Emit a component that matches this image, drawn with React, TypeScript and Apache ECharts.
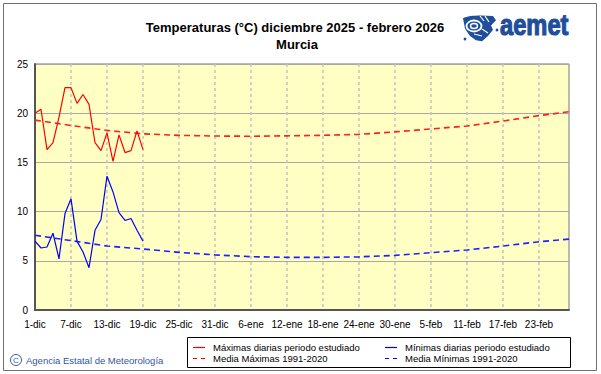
import React, { useEffect, useRef } from "react";
import * as echarts from "echarts";

// Categories: every day from 1-dic to 28-feb
const monthNames = ["dic", "ene", "feb"];
const monthLengths = [31, 31, 28];
const days: string[] = [];
monthNames.forEach((m, k) => {
  for (let d = 1; d <= monthLengths[k]; d++) days.push(`${d}-${m}`);
});

// Daily observed values (1-dic .. 19-dic)
const maxDaily = [20.0, 20.4, 16.3, 17.0, 19.6, 22.6, 22.6, 21.0, 21.9, 20.9, 17.0, 16.2, 18.0, 15.1, 17.8, 16.0, 16.2, 18.2, 16.3];
const minDaily = [7.0, 6.3, 6.4, 7.8, 5.2, 9.8, 11.3, 7.0, 5.9, 4.3, 8.1, 9.2, 13.6, 12.0, 9.9, 9.1, 9.3, 8.1, 7.0];

// Climatological means 1991-2020, read at these day indices
const normIdx = [0, 6, 12, 18, 24, 30, 36, 42, 48, 54, 60, 66, 72, 78, 84, 89];
const normMax = [19.3, 18.75, 18.25, 17.9, 17.75, 17.68, 17.66, 17.7, 17.75, 17.85, 18.1, 18.4, 18.7, 19.2, 19.75, 20.15];
const normMin = [7.6, 7.05, 6.5, 6.2, 5.86, 5.6, 5.42, 5.35, 5.35, 5.4, 5.55, 5.83, 6.1, 6.5, 6.94, 7.2];

const yMin = 0;
const yMax = 25;
const yStep = 5;

const titleText = "Temperaturas (°C) diciembre 2025 - febrero 2026";
const subtitleText = "Murcia";
const legendNames = [
  "Máximas diarias periodo estudiado",
  "Mínimas diarias periodo estudiado",
  "Media Máximas 1991-2020",
  "Media Mínimas 1991-2020",
];
const footerText = "Agencia Estatal de Meteorología";

const FONT = "'Liberation Sans', Arial, sans-serif";

const logoPath =
  "M1 3 C7 0 20 0 31 1 L34 5 L29 10 L31 14 L26 20 L20 25 L14 24 L8 20 L3 13 Z";

let registered = false;
function registerLogo() {
  if (registered) return;
  echarts.graphic.registerShape("logo", echarts.graphic.extendPath(logoPath, {}) as any);
  registered = true;
}

export default function App() {
  const ref = useRef<HTMLDivElement>(null);

  useEffect(() => {
    if (!ref.current) return;
    registerLogo();
    const chart = echarts.init(ref.current, undefined, { renderer: "svg" });

    const gridLeft = 35;
    const gridTop = 64;
    const gridW = 534;
    const gridH = 246;

    const legX = 187;
    const legY = 337;
    const row1 = 347.5;
    const row2 = 358.5;
    const col1 = 193;
    const col2 = 385;
    const legendItems = [
      { x: col1, y: row1, color: "#ff0000", dash: null, text: legendNames[0] },
      { x: col2, y: row1, color: "#0000ff", dash: null, text: legendNames[1] },
      { x: col1, y: row2, color: "#ff0000", dash: [4, 4], text: legendNames[2] },
      { x: col2, y: row2, color: "#0000ff", dash: [4, 4], text: legendNames[3] },
    ];

    const legendGraphics: any[] = [
      {
        type: "rect",
        shape: { x: legX + 0.5, y: legY + 0.5, width: 383, height: 30 },
        style: { fill: "#ffffff", stroke: "#000000", lineWidth: 1 },
      },
    ];
    legendItems.forEach((it) => {
      legendGraphics.push({
        type: "line",
        shape: { x1: it.x, y1: it.y, x2: it.x + 12, y2: it.y },
        style: { stroke: it.color, lineWidth: 1.2, lineDash: it.dash || undefined },
      });
      legendGraphics.push({
        type: "text",
        x: it.x + 20,
        y: it.y,
        style: {
          text: it.text,
          fill: "#000",
          font: `9.5px ${FONT}`,
          textVerticalAlign: "middle",
          textAlign: "left",
        },
      });
    });

    const option: any = {
      animation: false,
      textStyle: { fontFamily: FONT },
      grid: {
        left: gridLeft,
        top: gridTop,
        width: gridW,
        height: gridH,
        show: true,
        backgroundColor: "#ffffc4",
        borderColor: "#777777",
        borderWidth: 1,
      },
      xAxis: {
        type: "category",
        data: days,
        boundaryGap: false,
        axisLine: { show: true, lineStyle: { color: "#555555", width: 2 } },
        axisTick: { show: false },
        axisLabel: {
          interval: 5,
          color: "#000",
          fontSize: 10,
          margin: 9,
          fontFamily: FONT,
        },
        splitLine: {
          show: true,
          interval: 5,
          lineStyle: { color: "#c4c4c4", width: 1.5, type: [3, 3] },
        },
      },
      yAxis: {
        type: "value",
        min: yMin,
        max: yMax,
        interval: yStep,
        axisLine: { show: true, lineStyle: { color: "#555555", width: 2 } },
        axisTick: { show: false },
        axisLabel: { color: "#000", fontSize: 10, margin: 7, fontFamily: FONT },
        splitLine: { show: true, lineStyle: { color: "#a8a8a8", width: 1 } },
      },
      series: [
        {
          name: legendNames[0],
          type: "line",
          data: maxDaily,
          showSymbol: false,
          lineStyle: { color: "#ff0000", width: 1.2 },
          z: 5,
        },
        {
          name: legendNames[1],
          type: "line",
          data: minDaily,
          showSymbol: false,
          lineStyle: { color: "#0000ff", width: 1.2 },
          z: 5,
        },
        {
          name: legendNames[2],
          type: "line",
          data: normIdx.map((i, k) => [days[i], normMax[k]]),
          showSymbol: false,
          lineStyle: { color: "#ff2020", width: 1.6, type: [6, 4] },
          z: 4,
        },
        {
          name: legendNames[3],
          type: "line",
          data: normIdx.map((i, k) => [days[i], normMin[k]]),
          showSymbol: false,
          lineStyle: { color: "#2020ff", width: 1.6, type: [6, 4] },
          z: 4,
        },
      ],
      graphic: [
        {
          type: "rect",
          shape: { x: 3.5, y: 3.5, width: 593, height: 367 },
          style: { fill: "none", stroke: "#707070", lineWidth: 1 },
          z: -10,
        },
        {
          type: "text",
          x: 295,
          y: 27,
          style: {
            text: titleText,
            fill: "#000",
            font: `bold 13px ${FONT}`,
            textAlign: "center",
            textVerticalAlign: "middle",
          },
        },
        {
          type: "text",
          x: 297,
          y: 44,
          style: {
            text: subtitleText,
            fill: "#000",
            font: `bold 13px ${FONT}`,
            textAlign: "center",
            textVerticalAlign: "middle",
          },
        },
        // logo icon
        {
          type: "group",
          x: 462,
          y: 15,
          children: [
            { type: "logo", x: 0, y: 0, scaleX: 1, scaleY: 1.05, style: { fill: "#1f4e9a" } },
            {
              type: "ellipse",
              shape: { cx: 12, cy: 11, rx: 7.5, ry: 5.5 },
              style: { fill: "none", stroke: "#ffffff", lineWidth: 1.8 },
            },
            {
              type: "ellipse",
              shape: { cx: 12, cy: 11, rx: 3.5, ry: 2.5 },
              style: { fill: "none", stroke: "#ffffff", lineWidth: 1.4 },
            },
            { type: "line", shape: { x1: 18, y1: 1, x2: 22, y2: 6 }, style: { stroke: "#fff", lineWidth: 1.2 } },
            { type: "line", shape: { x1: 23, y1: 1, x2: 27, y2: 7 }, style: { stroke: "#fff", lineWidth: 1.2 } },
            { type: "line", shape: { x1: 20, y1: 14, x2: 26, y2: 18 }, style: { stroke: "#fff", lineWidth: 1.2 } },
            { type: "line", shape: { x1: 12, y1: 19, x2: 20, y2: 21 }, style: { stroke: "#fff", lineWidth: 1.2 } },
            { type: "circle", shape: { cx: 3, cy: 24, r: 1.4 }, style: { fill: "#1f4e9a" } },
            { type: "circle", shape: { cx: 35, cy: 15, r: 1.4 }, style: { fill: "#1f4e9a" } },
          ],
        },
        {
          type: "text",
          x: 500,
          y: 40,
          scaleX: 0.79,
          style: {
            text: "aemet",
            fill: "#1f4e9a",
            stroke: "#1f4e9a",
            lineWidth: 1.2,
            font: `bold 30px ${FONT}`,
            textAlign: "left",
            textVerticalAlign: "bottom",
          },
        },
        // footer
        {
          type: "circle",
          shape: { cx: 16, cy: 360, r: 5.5 },
          style: { fill: "none", stroke: "#2f56a8", lineWidth: 1 },
        },
        {
          type: "text",
          x: 16,
          y: 360.5,
          style: {
            text: "C",
            fill: "#2f56a8",
            font: `8px ${FONT}`,
            textAlign: "center",
            textVerticalAlign: "middle",
          },
        },
        {
          type: "text",
          x: 26,
          y: 360.5,
          style: {
            text: footerText,
            fill: "#2f56a8",
            font: `9.5px ${FONT}`,
            textAlign: "left",
            textVerticalAlign: "middle",
          },
        },
        ...legendGraphics,
      ],
    };

    chart.setOption(option);
    return () => chart.dispose();
  }, []);

  return (
    <div
      ref={ref}
      style={{ position: "fixed", left: 0, top: 0, width: 601, height: 374, background: "#ffffff" }}
    />
  );
}
